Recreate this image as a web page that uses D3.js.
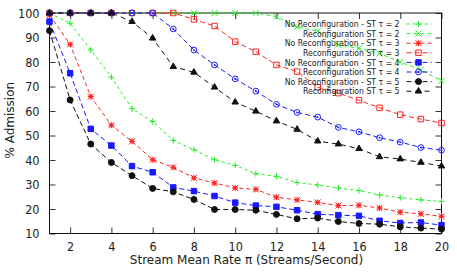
<!DOCTYPE html>
<html lang="en">
    <head>
        <meta charset="utf-8"/>
        <script src="https://d3js.org/d3.v7.min.js"></script>
        <style>
            body { margin: 0; background: #fff; }
            text { font-family: "DejaVu Sans Condensed", "DejaVu Sans", sans-serif; fill: #222; }
        </style>
    </head>
    <body>
        <div id="chart"></div>
    </body>
    <script>
        // stream mean rate 1..20
        var rates = d3.range(1, 21);

        var noReconf2 = [100, 95.8, 84.9, 73.8, 60.9, 55.7, 48.0, 44.2, 40.1, 37.8, 34.4, 33.3, 30.8, 29.8, 28.6, 27.5, 25.7, 24.6, 23.7, 23.1];
        var reconf2   = [100, 100, 100, 100, 100, 100, 100, 100, 100, 100, 100, 98.5, 94.3, 92.6, 87.0, 85.6, 83.5, 80.0, 76.8, 72.3];
        var noReconf3 = [99.2, 87.2, 65.9, 54.2, 47.6, 40.1, 37.0, 32.7, 30.6, 28.6, 28.0, 24.8, 23.7, 22.7, 21.4, 21.5, 20.4, 18.7, 18.0, 17.0];
        var reconf3   = [100, 100, 100, 100, 100, 100, 100, 97.4, 94.7, 88.3, 84.2, 78.8, 76.1, 69.7, 67.3, 64.4, 61.3, 58.5, 56.7, 55.1];
        var noReconf4 = [96.5, 75.4, 52.7, 45.9, 37.5, 35.0, 28.8, 27.3, 25.3, 22.6, 21.4, 20.9, 19.5, 17.9, 17.5, 17.2, 15.2, 14.3, 14.5, 13.4];
        var reconf4   = [100, 100, 100, 100, 100, 100, 93.5, 84.9, 78.8, 73.1, 68.1, 62.7, 59.4, 57.5, 53.3, 51.5, 49.1, 47.3, 45.1, 44.0];
        var noReconf5 = [92.8, 64.5, 46.5, 39.0, 33.6, 28.4, 27.0, 23.9, 19.8, 19.8, 19.5, 17.8, 16.0, 16.3, 14.9, 14.1, 13.8, 12.7, 12.2, 11.8];
        var reconf5   = [100, 100, 100, 100, 96.5, 89.7, 78.1, 75.8, 69.7, 63.6, 59.9, 55.9, 52.5, 47.7, 46.5, 44.6, 41.3, 40.4, 39.0, 37.5];

        var labels = [
            "No Reconfiguration - ST \u03c4 = 2", "Reconfiguration ST \u03c4 = 2",
            "No Reconfiguration - ST \u03c4 = 3", "Reconfiguration ST \u03c4 = 3",
            "No Reconfiguration - ST \u03c4 = 4", "Reconfiguration ST \u03c4 = 4",
            "No Reconfiguration - ST \u03c4 = 5", "Reconfiguration ST \u03c4 = 5"
        ];
        var xTicks = d3.range(2, 21, 2);
        var yTicks = d3.range(10, 101, 10);

        var series = [
            {name: labels[0], values: noReconf2, color: "#22ee22", dash: "3,3", mark: "plus"},
            {name: labels[1], values: reconf2,   color: "#22ee22", dash: "4,3", mark: "cross"},
            {name: labels[2], values: noReconf3, color: "#ff2222", dash: "4,3", mark: "star"},
            {name: labels[3], values: reconf3,   color: "#ff2222", dash: "5,3", mark: "osquare"},
            {name: labels[4], values: noReconf4, color: "#1a1aff", dash: "5,3", mark: "square"},
            {name: labels[5], values: reconf4,   color: "#1a1aff", dash: "5,3", mark: "ocircle"},
            {name: labels[6], values: noReconf5, color: "#111111", dash: "5,3", mark: "circle"},
            {name: labels[7], values: reconf5,   color: "#111111", dash: "5,4", mark: "triangle"}
        ];

        var margin = {top: 13, right: 15.5, bottom: 40.5, left: 49.5};
        var W = 457, H = 274;
        var width = W - margin.left - margin.right;
        var height = H - margin.top - margin.bottom;

        var svg = d3.select("#chart")
            .append("svg")
                .attr("width", W)
                .attr("height", H)
            .append("g")
                .attr("transform", "translate(" + margin.left + "," + margin.top + ")");

        var x = d3.scaleLinear().domain([1, 20]).range([0, width]);
        var y = d3.scaleLinear().domain([10, 100]).range([height, 0]);

        // ticks, inward, mirrored
        var tl = 6;
        svg.append("g")
            .attr("transform", "translate(0," + height + ")")
            .call(d3.axisBottom(x).tickValues(xTicks).tickSizeInner(-tl).tickSizeOuter(0).tickPadding(8.5))
            .call(function (g) { g.select(".domain").remove(); });
        svg.append("g")
            .call(d3.axisTop(x).tickValues(xTicks).tickSizeInner(-tl).tickSizeOuter(0).tickFormat(""))
            .call(function (g) { g.select(".domain").remove(); });
        svg.append("g")
            .call(d3.axisLeft(y).tickValues(yTicks).tickSizeInner(-tl).tickSizeOuter(0).tickPadding(10))
            .call(function (g) { g.select(".domain").remove(); });
        svg.append("g")
            .attr("transform", "translate(" + width + ",0)")
            .call(d3.axisRight(y).tickValues(yTicks).tickSizeInner(-tl).tickSizeOuter(0).tickFormat(""))
            .call(function (g) { g.select(".domain").remove(); });

        svg.selectAll(".tick text")
            .style("font-size", "12.5px")
            .style("font-family", "'DejaVu Sans Condensed', 'DejaVu Sans', sans-serif")
            .attr("fill", "#222");
        svg.selectAll(".tick line").attr("stroke", "#333");

        // frame
        svg.append("rect")
            .attr("x", 0).attr("y", 0)
            .attr("width", width).attr("height", height)
            .attr("fill", "none")
            .attr("stroke", "#111")
            .attr("stroke-width", 1);

        function markPath(type) {
            var s = 3;
            if (type === "plus") return "M" + -s + ",0H" + s + "M0," + -s + "V" + s;
            if (type === "cross") return "M" + -s + "," + -s + "L" + s + "," + s + "M" + -s + "," + s + "L" + s + "," + -s;
            if (type === "star") return "M" + -s + ",0H" + s + "M0," + -s + "V" + s +
                "M" + -s + "," + -s + "L" + s + "," + s + "M" + -s + "," + s + "L" + s + "," + -s;
            if (type === "square" || type === "osquare") return d3.symbol(d3.symbolSquare, 30)();
            if (type === "circle") return d3.symbol(d3.symbolCircle, 28)();
            if (type === "ocircle") return d3.symbol(d3.symbolCircle, 26)();
            if (type === "triangle") return d3.symbol(d3.symbolTriangle, 18)();
        }

        function drawMark(g, type, color) {
            var filled = (type === "square" || type === "circle" || type === "triangle");
            g.append("path")
                .attr("d", markPath(type))
                .attr("fill", filled ? color : "none")
                .attr("stroke", color)
                .attr("stroke-width", 1);
            if (type === "ocircle") {
                g.append("circle").attr("r", 0.9).attr("fill", color);
            }
            if (type === "star") {
                g.append("rect").attr("x", -2).attr("y", -2).attr("width", 4).attr("height", 4)
                    .attr("fill", color).attr("opacity", 0.6);
            }
        }

        var line = d3.line()
            .x(function (d, i) { return x(rates[i]); })
            .y(function (d) { return y(d); });

        var plot = svg.append("g");

        series.forEach(function (s) {
            plot.append("path")
                .datum(s.values)
                .attr("d", line)
                .attr("fill", "none")
                .attr("stroke", s.color)
                .attr("stroke-width", 1)
                .attr("stroke-dasharray", s.dash);
            plot.selectAll(null)
                .data(s.values)
                .enter()
                .append("g")
                .attr("transform", function (d, i) { return "translate(" + x(rates[i]) + "," + y(d) + ")"; })
                .each(function () { drawMark(d3.select(this), s.mark, s.color); });
        });

        // legend
        var legend = svg.append("g").attr("transform", "translate(" + (399.5 - margin.left) + "," + (24 - margin.top) + ")");
        series.forEach(function (s, i) {
            var row = legend.append("g").attr("transform", "translate(0," + (i * 9.6) + ")");
            row.append("text")
                .attr("x", 0).attr("y", 3.2)
                .attr("text-anchor", "end")
                .style("font-size", "8.6px")
                .text(s.name);
            row.append("line")
                .attr("x1", 7).attr("x2", 32)
                .attr("stroke", s.color)
                .attr("stroke-width", 1)
                .attr("stroke-dasharray", s.dash);
            var m = row.append("g").attr("transform", "translate(19,0)");
            drawMark(m, s.mark, s.color);
        });

        // axis titles
        svg.append("text")
            .attr("x", width / 2 + 1)
            .attr("y", height + 30)
            .attr("text-anchor", "middle")
            .style("font-family", "'DejaVu Sans', sans-serif")
            .style("font-size", "12px")
            .text("Stream Mean Rate \u03c0 (Streams/Second)");

        svg.append("text")
            .attr("transform", "translate(" + (-36) + "," + (height / 2 - 3) + ") rotate(-90)")
            .attr("text-anchor", "middle")
            .style("font-family", "'DejaVu Sans', sans-serif")
            .style("font-size", "12px")
            .text("% Admission");
    </script>
</html>
